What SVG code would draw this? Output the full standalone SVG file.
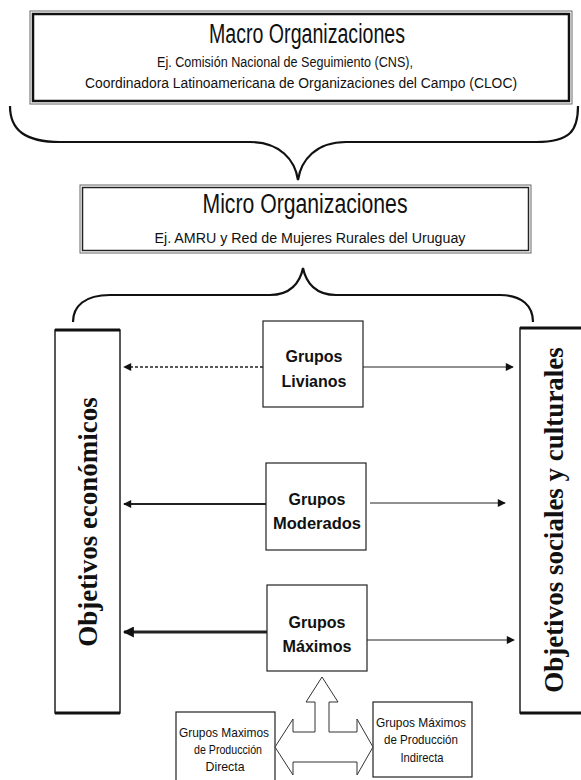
<svg xmlns="http://www.w3.org/2000/svg" width="581" height="780" viewBox="0 0 581 780">
<defs>
<style>
.box{fill:#fff;stroke:#222;stroke-width:1.2}
.brace{fill:none;stroke:#111;stroke-width:2.2}
.sans{font-family:"Liberation Sans",Arial,sans-serif;fill:#111}
.bold{font-family:"Liberation Sans",Arial,sans-serif;font-weight:bold;fill:#111}
.serif{font-family:"Liberation Serif","Times New Roman",serif;font-weight:bold;fill:#111}
.conn{fill:none;stroke:#222}
</style>
<marker id="ah" viewBox="0 0 10 10" refX="9" refY="5" markerWidth="10" markerHeight="8" markerUnits="userSpaceOnUse" orient="auto"><path d="M0,0 L10,5 L0,10 Z" fill="#111"/></marker>
<marker id="ahb" viewBox="0 0 10 10" refX="9" refY="5" markerWidth="13" markerHeight="11" markerUnits="userSpaceOnUse" orient="auto"><path d="M0,0 L10,5 L0,10 Z" fill="#111"/></marker>
</defs>
<rect width="581" height="780" fill="#fff"/>

<g id="macro">
<rect x="30" y="11" width="542" height="93" fill="#fff" stroke="#666" stroke-width="1"/>
<rect x="33" y="14" width="536" height="87" fill="none" stroke="#111" stroke-width="2.5"/>
<text class="sans" x="307" y="43" font-size="27" text-anchor="middle" textLength="196" lengthAdjust="spacingAndGlyphs">Macro Organizaciones</text>
<text class="sans" x="285" y="67" font-size="15.5" text-anchor="middle" textLength="256" lengthAdjust="spacingAndGlyphs">Ej. Comisión Nacional de Seguimiento (CNS),</text>
<text class="sans" x="301" y="88" font-size="15.5" text-anchor="middle" textLength="432" lengthAdjust="spacingAndGlyphs">Coordinadora Latinoamericana de Organizaciones del Campo (CLOC)</text>
</g>

<g id="micro">
<rect x="80" y="185" width="451" height="68" fill="#fff" stroke="#666" stroke-width="1"/>
<rect x="82.5" y="187.5" width="446" height="63" fill="none" stroke="#222" stroke-width="1.5"/>
<text class="sans" x="305" y="213" font-size="27" text-anchor="middle" textLength="205" lengthAdjust="spacingAndGlyphs">Micro Organizaciones</text>
<text class="sans" x="310" y="243" font-size="15.5" text-anchor="middle" textLength="311" lengthAdjust="spacingAndGlyphs">Ej. AMRU y Red de Mujeres Rurales del Uruguay</text>
</g>

<g id="braces">
<path class="brace" d="M10,106 C10,130 25,142 60,142 L250,142 C280,142 295,160 298,180 C301,160 316,142 346,142 L536,142 C571,142 578,130 578,106"/>
<path class="brace" d="M73,322 C73,306 85,295 110,295 L270,295 C290,295 300,283 303,268 C306,283 316,295 336,295 L500,295 C522,295 533,306 533,322"/>
</g>

<g id="obj-economicos">
<rect x="55" y="330" width="65" height="383" fill="#fff" stroke="#222" stroke-width="1.5"/>
<line x1="55" y1="330" x2="120" y2="330" stroke="#111" stroke-width="3"/>
<line x1="55" y1="713" x2="120" y2="713" stroke="#111" stroke-width="3"/>
<text class="serif" transform="translate(97,522) rotate(-90)" font-size="27" text-anchor="middle">Objetivos económicos</text>
</g>

<g id="obj-sociales">
<rect x="520" y="328" width="80" height="385" fill="#fff" stroke="#222" stroke-width="1.5"/>
<line x1="520" y1="328" x2="581" y2="328" stroke="#111" stroke-width="3"/>
<line x1="520" y1="713" x2="581" y2="713" stroke="#111" stroke-width="3"/>
<text class="serif" transform="translate(563,520) rotate(-90)" font-size="27" text-anchor="middle">Objetivos sociales y culturales</text>
</g>

<g id="livianos">
<rect class="box" x="263" y="321" width="100" height="86"/>
<text class="bold" x="314" y="362" font-size="16" text-anchor="middle" textLength="57" lengthAdjust="spacingAndGlyphs">Grupos</text>
<text class="bold" x="314" y="387" font-size="16" text-anchor="middle" textLength="65" lengthAdjust="spacingAndGlyphs">Livianos</text>
</g>

<g id="moderados">
<rect class="box" x="266" y="463" width="100" height="87"/>
<text class="bold" x="317" y="505" font-size="16" text-anchor="middle" textLength="57" lengthAdjust="spacingAndGlyphs">Grupos</text>
<text class="bold" x="317" y="529" font-size="16" text-anchor="middle" textLength="88" lengthAdjust="spacingAndGlyphs">Moderados</text>
</g>

<g id="maximos">
<rect class="box" x="267" y="585" width="100" height="86"/>
<text class="bold" x="317" y="628" font-size="16" text-anchor="middle" textLength="57" lengthAdjust="spacingAndGlyphs">Grupos</text>
<text class="bold" x="317" y="652" font-size="16" text-anchor="middle" textLength="69" lengthAdjust="spacingAndGlyphs">Máximos</text>
</g>

<g id="directa">
<rect class="box" x="176" y="712" width="99" height="80"/>
<text class="sans" x="224" y="737" font-size="13.5" text-anchor="middle" textLength="90" lengthAdjust="spacingAndGlyphs">Grupos Maximos</text>
<text class="sans" x="228" y="754" font-size="13.5" text-anchor="middle" textLength="68" lengthAdjust="spacingAndGlyphs">de Producción</text>
<text class="sans" x="225" y="771" font-size="13.5" text-anchor="middle" textLength="39" lengthAdjust="spacingAndGlyphs">Directa</text>
</g>

<g id="indirecta">
<rect class="box" x="373" y="702" width="99" height="75"/>
<text class="sans" x="421" y="727" font-size="13.5" text-anchor="middle" textLength="90" lengthAdjust="spacingAndGlyphs">Grupos Máximos</text>
<text class="sans" x="421" y="744" font-size="13.5" text-anchor="middle" textLength="74" lengthAdjust="spacingAndGlyphs">de Producción</text>
<text class="sans" x="422" y="762" font-size="13.5" text-anchor="middle" textLength="43" lengthAdjust="spacingAndGlyphs">Indirecta</text>
</g>

<g id="connectors">
<line class="conn" x1="263" y1="367" x2="124" y2="367" stroke="#555" stroke-width="1.3" stroke-dasharray="3,2" marker-end="url(#ah)"/>
<line class="conn" x1="363" y1="367" x2="513" y2="367" stroke-width="1" marker-end="url(#ah)"/>
<line class="conn" x1="266" y1="504" x2="124" y2="504" stroke-width="2" marker-end="url(#ah)"/>
<line class="conn" x1="370" y1="503" x2="505" y2="503" stroke-width="1" marker-end="url(#ah)"/>
<line class="conn" x1="267" y1="632" x2="124" y2="632" stroke-width="3" marker-end="url(#ahb)"/>
<line class="conn" x1="367" y1="640" x2="514" y2="640" stroke-width="1" marker-end="url(#ah)"/>
<polygon points="322,677 338,702 329,702 329,732 357,732 357,719 373,747 357,775 357,762 293,762 293,775 275,747 293,719 293,732 315,732 315,702 306,702" fill="#fff" stroke="#333" stroke-width="1"/>
</g>
</svg>
